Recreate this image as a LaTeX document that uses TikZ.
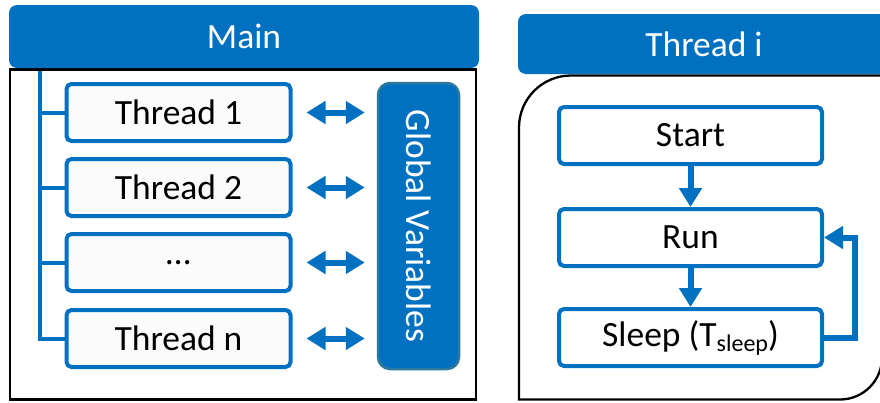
\documentclass[tikz,border=0pt]{standalone}
\usepackage{fontspec}
\setmainfont{Carlito}
\usetikzlibrary{arrows.meta}
\definecolor{ofblue}{HTML}{0070C0}
\definecolor{gvedge}{HTML}{2B7A9B}
\definecolor{boxfill}{HTML}{FBFBFB}

\begin{document}
\begin{tikzpicture}[x=1pt,y=-1pt,
  every node/.style={font=\fontsize{35.5}{40}\selectfont, inner sep=0pt},
  header/.style={fill=ofblue, text=white, rounded corners=8pt},
  thbox/.style={draw=ofblue, line width=4pt, fill=boxfill, rounded corners=5pt,
    minimum width=224pt, minimum height=57pt},
  flowbox/.style={draw=ofblue, line width=4pt, fill=white, rounded corners=5pt,
    minimum width=263pt, minimum height=57pt},
  gvbox/.style={draw=gvedge, line width=2.5pt, fill=ofblue, rounded corners=12pt,
    minimum width=81pt, minimum height=286pt},
  link/.style={draw=ofblue, line width=6pt,
    {Triangle[width=22pt,length=19pt]}-{Triangle[width=22pt,length=19pt]},
    shorten <=14pt, shorten >=12pt},
  flow/.style={draw=ofblue, line width=6pt, -{Triangle[width=22pt,length=19pt]}},
  blackframe/.style={draw=black, line width=2.3pt},
  tree/.style={draw=ofblue, line width=4pt}
]
\clip (0,0) rectangle (880,402);
\useasboundingbox (0,0) rectangle (880,402);
\fill[white] (0,0) rectangle (880,402);

% ---- Main ----
\draw[blackframe] (10,69.5) rectangle (476,399.5);
\node[header, minimum width=470pt, minimum height=63pt] (mainhead) at (244,36.5) {Main};

\node[thbox] (t1) at (178.5,112.5) {Thread 1};
\node[thbox] (t2) at (178.5,187.5) {Thread 2};
\node[thbox] (t3) at (178.5,262.5) {…};
\node[thbox] (tn) at (178.5,338.5) {Thread n};

\coordinate (treetop) at (40,70.5);
\draw[tree] (treetop) |- (tn.west);
\draw[tree] (treetop |- t1.west) -- (t1.west);
\draw[tree] (treetop |- t2.west) -- (t2.west);
\draw[tree] (treetop |- t3.west) -- (t3.west);

\node[gvbox] (gv) at (418.5,226) {};
\node[rotate=-90, text=white] (gvtext) at (gv.center) {Global Variables};

\draw[link] (t1.east) -- (t1.east -| gv.west);
\draw[link] (t2.east) -- (t2.east -| gv.west);
\draw[link] (t3.east) -- (t3.east -| gv.west);
\draw[link] (tn.east) -- (tn.east -| gv.west);

% ---- Thread i ----
\draw[blackframe] (519,399.5) -- (519,127.5)
  arc[start angle=180, end angle=90, radius=52pt]
  -- (882,75.5) -- (882,357.5)
  arc[start angle=0, end angle=-90, radius=42pt] -- cycle;
\node[header, minimum width=372pt, minimum height=60pt] (thead) at (704,44) {Thread i};

\node[flowbox] (start) at (690.5,135.5) {Start};
\node[flowbox] (run) at (690.5,237.5) {Run};
\node[flowbox] (sleep) at (690.5,337.5)
  {Sleep (T\raisebox{-5pt}{\fontsize{24}{24}\selectfont sleep})};

\draw[flow] (start) -- (run);
\draw[flow] (run) -- (sleep);
\draw[flow] (sleep.east) -- ++(31,0) |- (run.east);
\end{tikzpicture}
\end{document}
